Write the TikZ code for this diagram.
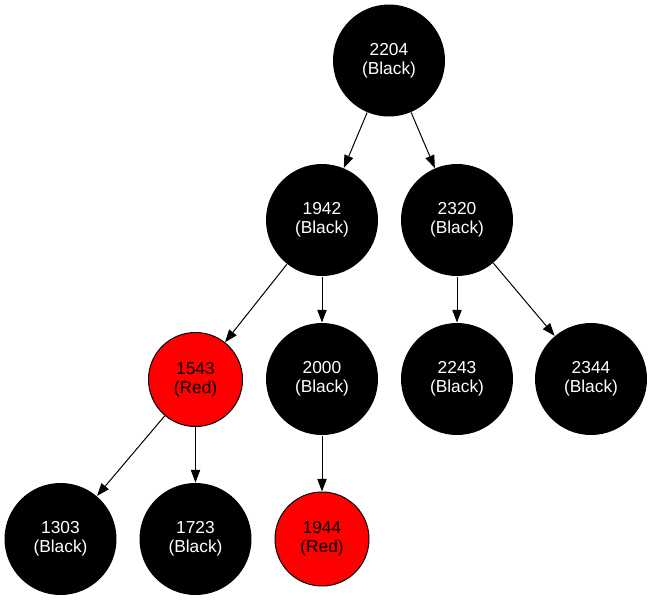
\documentclass[tikz,border=0pt]{standalone}
\usepackage{fontspec}
\setmainfont{Liberation Sans}
\usetikzlibrary{arrows.meta}

\begin{document}
\begin{tikzpicture}[x=0.75pt,y=-0.75pt,line width=0.75pt,
  every node/.style={align=center,font=\fontsize{13}{14.3}\selectfont},
  blk/.style={circle,fill=black,text=white,minimum size=84pt,inner sep=0pt},
  rd/.style={circle,draw=black,fill=red,text=black,minimum size=70.5pt,inner sep=0pt},
  edge/.style={-{Triangle[length=9.5pt,width=7pt]}}]
\useasboundingbox (0,0) rectangle (653,600);
% levels
\node[blk] (n2204) at (389,60.5) {2204\\(Black)};
\node[blk] (n1942) at (322,220) {1942\\(Black)};
\node[blk] (n2320) at (457,220) {2320\\(Black)};
\node[rd] (n1543) at (195.5,379.5) {1543\\(Red)};
\node[blk] (n2000) at (322,379) {2000\\(Black)};
\node[blk] (n2243) at (457,379) {2243\\(Black)};
\node[blk] (n2344) at (591,379) {2344\\(Black)};
\node[blk] (n1303) at (60.5,539) {1303\\(Black)};
\node[blk] (n1723) at (195.5,539) {1723\\(Black)};
\node[rd] (n1944) at (322,539) {1944\\(Red)};
% edges
\draw[edge](n2204)--(n1942);
\draw[edge](n2204)--(n2320);
\draw[edge](n1942)--(n1543);
\draw[edge](n1942)--(n2000);
\draw[edge](n2320)--(n2243);
\draw[edge](n2320)--(n2344);
\draw[edge](n1543)--(n1303);
\draw[edge](n1543)--(n1723);
\draw[edge](n2000)--(n1944);
\end{tikzpicture}
\end{document}
